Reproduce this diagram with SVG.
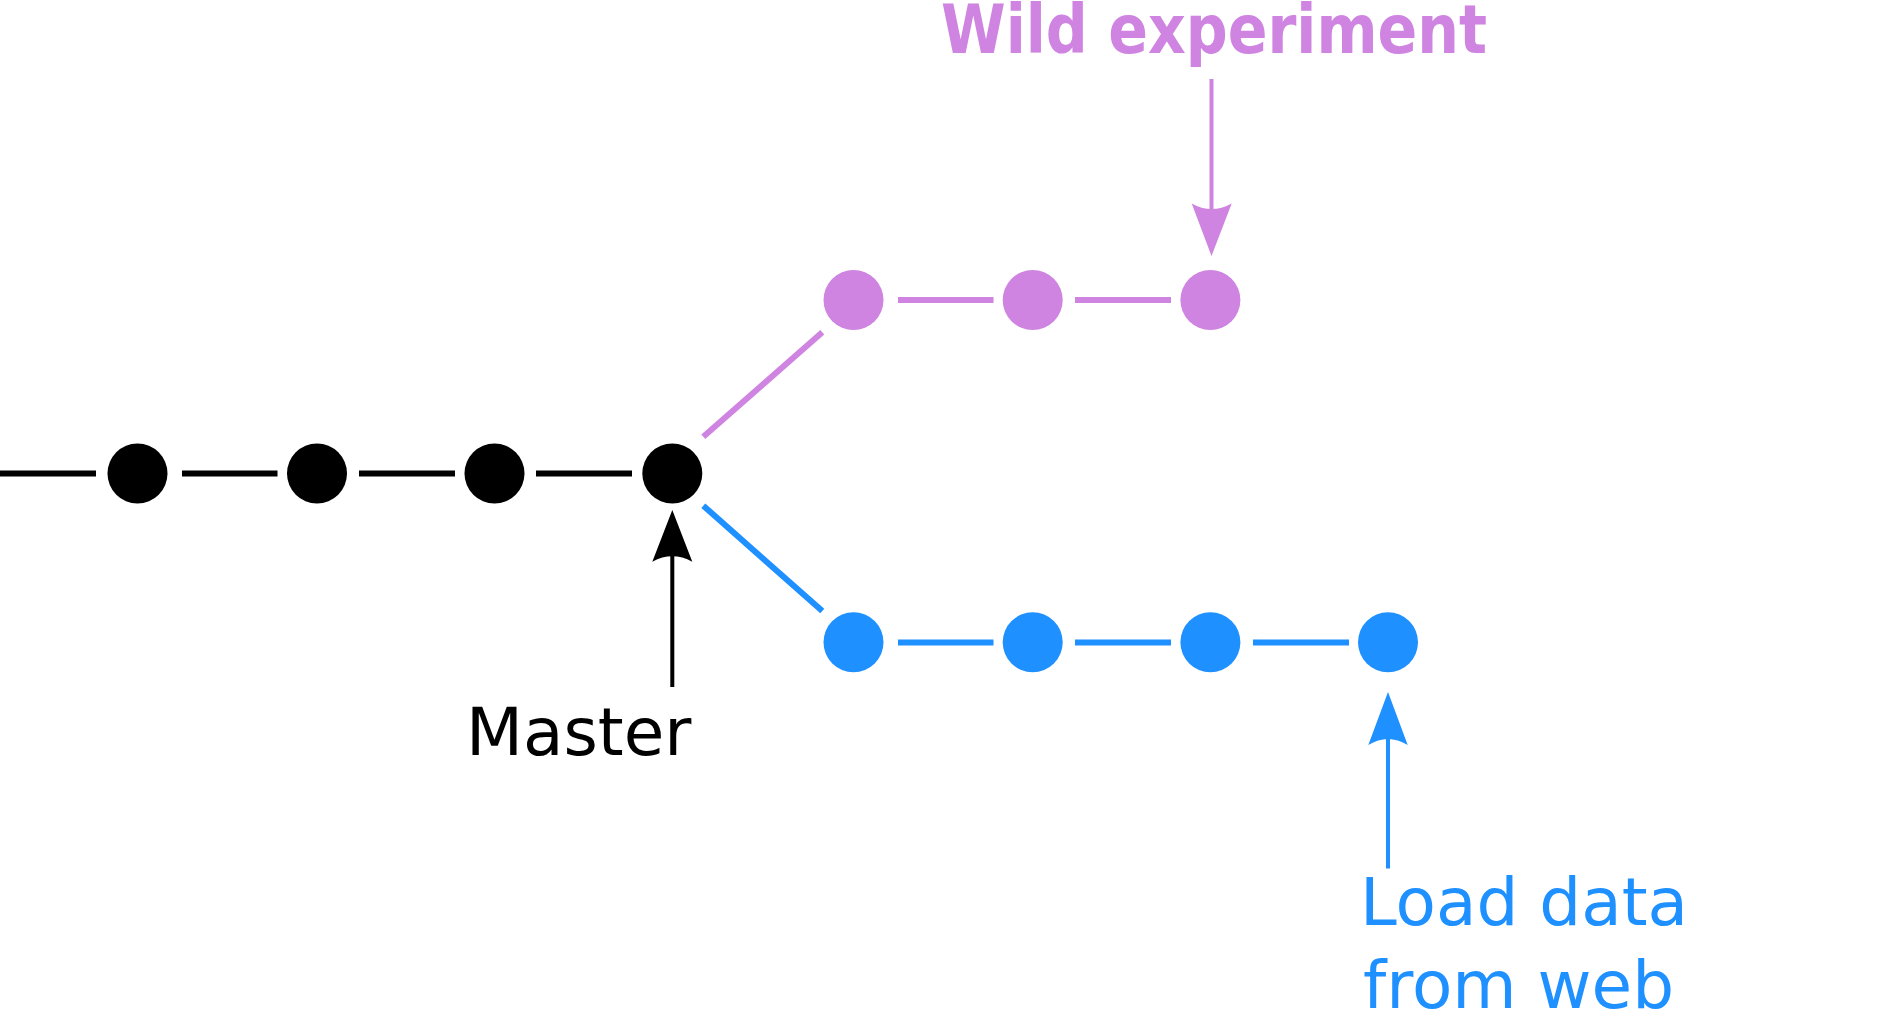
<svg xmlns="http://www.w3.org/2000/svg" width="1890" height="1010" viewBox="0 0 1890 1010">
<style>
.bk{fill:#000000}
.pu{fill:#CE84E0}
.bl{fill:#1E90FF}
.lk{stroke:#000000;stroke-width:6;fill:none}
.lp{stroke:#CE84E0;stroke-width:6;fill:none}
.lb{stroke:#1E90FF;stroke-width:6;fill:none}
.t{font-family:"DejaVu Sans","Verdana",sans-serif;font-size:66px}
.tb{font-family:"DejaVu Sans Condensed","DejaVu Sans",sans-serif;font-weight:bold;font-stretch:condensed;font-size:68px}
</style>
<rect width="1890" height="1010" fill="#ffffff"/>
<g id="connectors">
  <line class="lk" x1="0" y1="473.5" x2="96" y2="473.5"/>
  <line class="lk" x1="182" y1="473.5" x2="277.5" y2="473.5"/>
  <line class="lk" x1="359" y1="473.5" x2="455" y2="473.5"/>
  <line class="lk" x1="536" y1="473.5" x2="632" y2="473.5"/>
  <line class="lp" x1="703.3" y1="436.7" x2="822.3" y2="332.3"/>
  <line class="lp" x1="898" y1="300" x2="993.5" y2="300"/>
  <line class="lp" x1="1075" y1="300" x2="1171" y2="300"/>
  <line class="lb" x1="703.3" y1="505.7" x2="822.3" y2="611"/>
  <line class="lb" x1="898" y1="642.5" x2="993.5" y2="642.5"/>
  <line class="lb" x1="1075" y1="642.5" x2="1171" y2="642.5"/>
  <line class="lb" x1="1253" y1="642.5" x2="1349" y2="642.5"/>
  <line x1="672.3" y1="687" x2="672.3" y2="556" stroke="#000000" stroke-width="4"/>
  <path class="bk" d="M672.3,510 L652.3,561.7 Q672.3,551 692.3,561.7 Z"/>
  <line x1="1211.5" y1="79" x2="1211.5" y2="210" stroke="#CE84E0" stroke-width="4"/>
  <path class="pu" d="M1211.5,256 L1191.7,203.4 Q1211.5,214.5 1231.7,203.4 Z"/>
  <line x1="1388" y1="868.5" x2="1388" y2="738" stroke="#1E90FF" stroke-width="4"/>
  <path class="bl" d="M1388,692 L1368.3,745 Q1388,733 1407.7,745 Z"/>
</g>
<g id="n1"><circle class="bk" cx="137.5" cy="473.5" r="30"/></g>
<g id="n2"><circle class="bk" cx="317" cy="473.5" r="30"/></g>
<g id="n3"><circle class="bk" cx="494.5" cy="473.5" r="30"/></g>
<g id="n4"><circle class="bk" cx="672.3" cy="473.5" r="30"/></g>
<g id="p1"><circle class="pu" cx="853.5" cy="300" r="30"/></g>
<g id="p2"><circle class="pu" cx="1032.7" cy="300" r="30"/></g>
<g id="p3"><circle class="pu" cx="1210.4" cy="300" r="30"/></g>
<g id="b1"><circle class="bl" cx="853.5" cy="642.3" r="30"/></g>
<g id="b2"><circle class="bl" cx="1032.7" cy="642.3" r="30"/></g>
<g id="b3"><circle class="bl" cx="1210.4" cy="642.3" r="30"/></g>
<g id="b4"><circle class="bl" cx="1388" cy="642.3" r="30"/></g>
<g id="lbl-master"><text class="t" x="466" y="755" fill="#000000">Master</text></g>
<g id="lbl-wild"><text class="tb" x="941" y="53.3" fill="#CE84E0" textLength="546" lengthAdjust="spacingAndGlyphs">Wild experiment</text></g>
<g id="lbl-load"><text class="t" x="1360" y="925" fill="#1E90FF">Load data</text><text class="t" x="1363" y="1008" fill="#1E90FF">from web</text></g>
</svg>
